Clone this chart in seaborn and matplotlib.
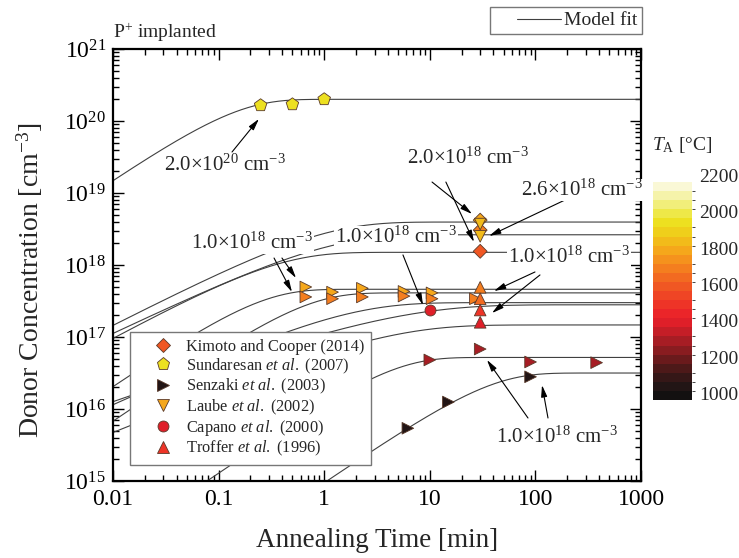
import numpy as np
import pandas as pd
import matplotlib
matplotlib.use("Agg")
import matplotlib.pyplot as plt
import seaborn as sns
from matplotlib.colors import ListedColormap, BoundaryNorm
from matplotlib.cm import ScalarMappable
from matplotlib.lines import Line2D
from matplotlib.legend_handler import HandlerBase
from matplotlib.ticker import LogLocator, FixedLocator, FixedFormatter, NullFormatter

# ---------------------------------------------------------------- colour scale
temp_edges = np.arange(1000, 2201, 50)
temp_colors = [
    "#131010", "#221515", "#351717", "#4d1919", "#6a1a1c", "#891c20",
    "#a71d24", "#c51e27", "#df1f29", "#eb2529", "#ee3427", "#ef4525",
    "#f05723", "#f26a21", "#f47e1f", "#f5921d", "#f5a71b", "#f2bb1a",
    "#efcf1b", "#ede020", "#eee848", "#f1ee7a", "#f5f3aa", "#faf8d6",
]
cbar_ticks = [1000, 1200, 1400, 1600, 1800, 2000, 2200]

# ---------------------------------------------------------------- measurements
kimoto_t = [30, 30, 30]
kimoto_n = [4.2e18, 3.05e18, 1.55e18]
kimoto_T = [1800, 1700, 1600]

sund_t = [0.25, 0.5, 1.0]
sund_n = [1.65e20, 1.70e20, 2.0e20]
sund_T = [1950, 1950, 1950]

senz_t = [0.67, 1.2, 2.3, 5.7, 10.5,
          0.67, 1.2, 2.3, 5.7, 10.5, 27,
          10, 30, 90, 380,
          6.2, 15, 90]
senz_n = [4.95e17, 4.2e17, 4.75e17, 4.3e17, 4.1e17,
          3.6e17, 3.4e17, 3.6e17, 3.7e17, 3.4e17, 3.4e17,
          4.8e16, 6.8e16, 4.5e16, 4.4e16,
          5.4e15, 1.25e16, 2.8e16]
senz_T = [1800] * 5 + [1700] * 6 + [1300] * 4 + [1050] * 3

laube_t = [30, 30]
laube_n = [3.7e18, 2.5e18]
laube_T = [1850, 1850]

capano_t = [10]
capano_n = [2.37e17]
capano_T = [1400]

troffer_t = [30, 30, 30, 30]
troffer_n = [4.9e17, 3.4e17, 2.37e17, 1.6e17]
troffer_T = [1700, 1650, 1500, 1400]

# ---------------------------------------------------------------- model fits
# saturation density, time constant [min] and stretching exponent of each fit
fit_nsat = [2.0e20, 3.95e18, 2.63e18, 1.5e18, 4.6e17, 4.1e17, 3.0e17, 2.8e17, 1.47e17, 5.2e16, 3.16e16]
fit_tau = [0.13, 0.80, 0.88, 0.30, 0.22, 0.60, 1.27, 3.7, 3.0, 4.0, 33.0]
fit_beta = [1.0, 0.75, 0.70, 0.80, 1.0, 1.0, 0.67, 0.52, 0.60, 1.0, 1.0]

# ---------------------------------------------------------------- style
sns.set_style("ticks")
plt.rcParams["font.family"] = ["Liberation Serif", "DejaVu Serif"]
plt.rcParams["mathtext.fontset"] = "custom"
plt.rcParams["mathtext.rm"] = "Liberation Serif"
plt.rcParams["mathtext.it"] = "Liberation Serif:italic"
plt.rcParams["mathtext.bf"] = "Liberation Serif:bold"

cmap = ListedColormap(temp_colors)
norm = BoundaryNorm(temp_edges, cmap.N)

fig = plt.figure(figsize=(7.39, 5.58), dpi=100)
ax = fig.add_axes([113 / 739, 1 - 481 / 558, 528 / 739, 432 / 558])
ax.set_xscale("log")
ax.set_yscale("log")

# model curves
t_grid = np.logspace(-2, 3, 600)
fit_rows = []
for k, (ns, tau, beta) in enumerate(zip(fit_nsat, fit_tau, fit_beta)):
    fit_rows.append(pd.DataFrame({"curve": k, "t": t_grid,
                                  "n": ns * (1 - np.exp(-(t_grid / tau) ** beta))}))
fits = pd.concat(fit_rows, ignore_index=True)
sns.lineplot(data=fits, x="t", y="n", units="curve", estimator=None,
             color="#404040", lw=0.8, ax=ax, legend=False, zorder=1)

# measured points
sets = [
    ("Kimoto and Cooper (2014)", kimoto_t, kimoto_n, kimoto_T, "D", 50, 1600),
    ("Sundaresan $et\\ al.$ (2007)", sund_t, sund_n, sund_T, "p", 90, 1960),
    ("Senzaki $et\\ al.$ (2003)", senz_t, senz_n, senz_T, ">", 70, 1060),
    ("Laube $et\\ al.$ (2002)", laube_t, laube_n, laube_T, "v", 70, 1800),
    ("Capano $et\\ al.$ (2000)", capano_t, capano_n, capano_T, "o", 62, 1420),
    ("Troffer $et\\ al.$ (1996)", troffer_t, troffer_n, troffer_T, "^", 70, 1500),
]
edge = "#5a3a2a"
handles = []
for name, tt, nn, TT, mk, size, legT in sets:
    df = pd.DataFrame({"t": tt, "n": nn, "T": TT})
    pal = {T: cmap(norm(T)) for T in sorted(set(TT))}
    sns.scatterplot(data=df, x="t", y="n", hue="T", palette=pal, marker=mk,
                    s=size, edgecolor=edge, linewidth=0.6, legend=False,
                    ax=ax, zorder=3)
    handles.append(Line2D([], [], ls="", marker=mk, markersize=np.sqrt(size),
                          markerfacecolor=cmap(norm(legT)),
                          markeredgecolor=edge, markeredgewidth=0.6, label=name))

ax.set_xlim(0.01, 1000)
ax.set_ylim(1e15, 1e21)

# ticks
ax.xaxis.set_major_locator(FixedLocator([0.01, 0.1, 1, 10, 100, 1000]))
ax.xaxis.set_major_formatter(FixedFormatter(["0.01", "0.1", "1", "10", "100", "1000"]))
ax.xaxis.set_minor_locator(LogLocator(base=10, subs=np.arange(2, 10), numticks=20))
ax.xaxis.set_minor_formatter(NullFormatter())
y_major = [1e15, 1e16, 1e17, 1e18, 1e19, 1e20, 1e21]
ax.yaxis.set_major_locator(FixedLocator(y_major))
ax.yaxis.set_major_formatter(FixedFormatter([f"10$^{{{int(np.log10(v))}}}$" for v in y_major]))
ax.yaxis.set_minor_locator(LogLocator(base=10, subs=np.arange(2, 10), numticks=20))
ax.yaxis.set_minor_formatter(NullFormatter())
ax.tick_params(which="both", direction="in", top=True, right=True, width=1.0, colors="black")
ax.tick_params(which="major", length=8, labelsize=17, pad=5)
ax.tick_params(axis="x", which="major", pad=6)
ax.tick_params(which="minor", length=4)
for sp in ax.spines.values():
    sp.set_linewidth(1.6)
    sp.set_color("black")

ax.set_xlabel("Annealing Time [min]", fontsize=19.5, labelpad=13)
ax.set_ylabel("Donor Concentration [cm$^{-3}$]", fontsize=20)
ax.yaxis.set_label_coords(-0.128, 0.465)
ax.text(0.0, 1.012, "P$^{+}$ implanted", transform=ax.transAxes, fontsize=14,
        ha="left", va="bottom")

# dose annotations
lab_kw = dict(fontsize=15, ha="center", va="center", zorder=4,
              bbox=dict(facecolor="white", edgecolor="none", pad=0.5))
arr_kw = dict(arrowstyle="-|>,head_length=0.7,head_width=0.18", color="black",
              lw=0.8, shrinkA=0, shrinkB=0)
labels = [
    ("2.0×10$^{20}$ cm$^{-3}$", (0.115, 2.45e19), [((0.134, 3.71e19), (0.241, 1.07e20))]),
    ("2.0×10$^{18}$ cm$^{-3}$", (23.0, 3.06e19), [((10.5, 1.42e19), (25.1, 5.11e18)),
                                                  ((14.2, 1.42e19), (26.2, 2.09e18))]),
    ("2.6×10$^{18}$ cm$^{-3}$", (276, 1.10e19), [((190.7, 8.0e18), (36.4, 2.53e18))]),
    ("1.0×10$^{18}$ cm$^{-3}$", (0.207, 2.02e18), [((0.398, 1.25e18), (0.541, 6.6e17)),
                                                   ((0.335, 1.25e18), (0.495, 4.22e17))]),
    ("1.0×10$^{18}$ cm$^{-3}$", (4.79, 2.45e18), [((5.57, 1.38e18), (8.62, 2.78e17))]),
    ("1.0×10$^{18}$ cm$^{-3}$", (208, 1.29e18), [((99.1, 8.0e17), (40.5, 4.35e17)),
                                                 ((110.5, 7.27e17), (38.8, 2.15e17))]),
    ("1.0×10$^{18}$ cm$^{-3}$", (160, 4.08e15), [((85.1, 7.5e15), (34.8, 4.8e16)),
                                                 ((131.6, 7.5e15), (115.5, 2.15e16))]),
]
for text, pos, arrows in labels:
    for start, tip in arrows:
        ax.annotate("", xy=tip, xytext=start, arrowprops=arr_kw, zorder=4)
    ax.text(pos[0], pos[1], text, **lab_kw)

# legend of measured data
leg = ax.legend(handles=handles, loc="lower left", bbox_to_anchor=(0.032, 0.037),
                borderaxespad=0, fontsize=11.8, frameon=True, fancybox=False,
                framealpha=1, edgecolor="#777777", handlelength=3.3,
                handletextpad=-0.3, borderpad=0.4, labelspacing=0.08)
leg.get_frame().set_linewidth(1.0)
leg.set_zorder(5)


class ShortLine(HandlerBase):
    def create_artists(self, legend, orig_handle, xdescent, ydescent, width,
                       height, fontsize, trans):
        y = height / 2 - ydescent
        ln = Line2D([-xdescent + 0.33 * width, -xdescent + width], [y, y],
                    color=orig_handle.get_color(), lw=orig_handle.get_linewidth())
        ln.set_transform(trans)
        return [ln]


fit_handle = Line2D([], [], color="#404040", lw=0.8, label="Model fit")
fig.legend(handles=[fit_handle], loc="upper right", bbox_to_anchor=(642 / 739, 1 - 7 / 558),
           fontsize=14, frameon=True, fancybox=False, framealpha=1,
           edgecolor="#777777", handlelength=3.4, handletextpad=0.15,
           borderpad=0.25, borderaxespad=0, handler_map={Line2D: ShortLine()})

# temperature colour bar
cax = fig.add_axes([653 / 739, 1 - 400 / 558, 39 / 739, 218 / 558])
cb = fig.colorbar(ScalarMappable(norm=norm, cmap=cmap), cax=cax, ticks=cbar_ticks)
cb.outline.set_visible(False)
cax.tick_params(length=0, labelsize=14, pad=5)
for lbl in cax.get_yticklabels():
    lbl.set_va("baseline")
fig.text(682 / 739, 1 - 145 / 558, "$T_{\\mathrm{A}}$ [°C]", fontsize=14,
         ha="center", va="center")

fig.savefig("out.png", dpi=100)
